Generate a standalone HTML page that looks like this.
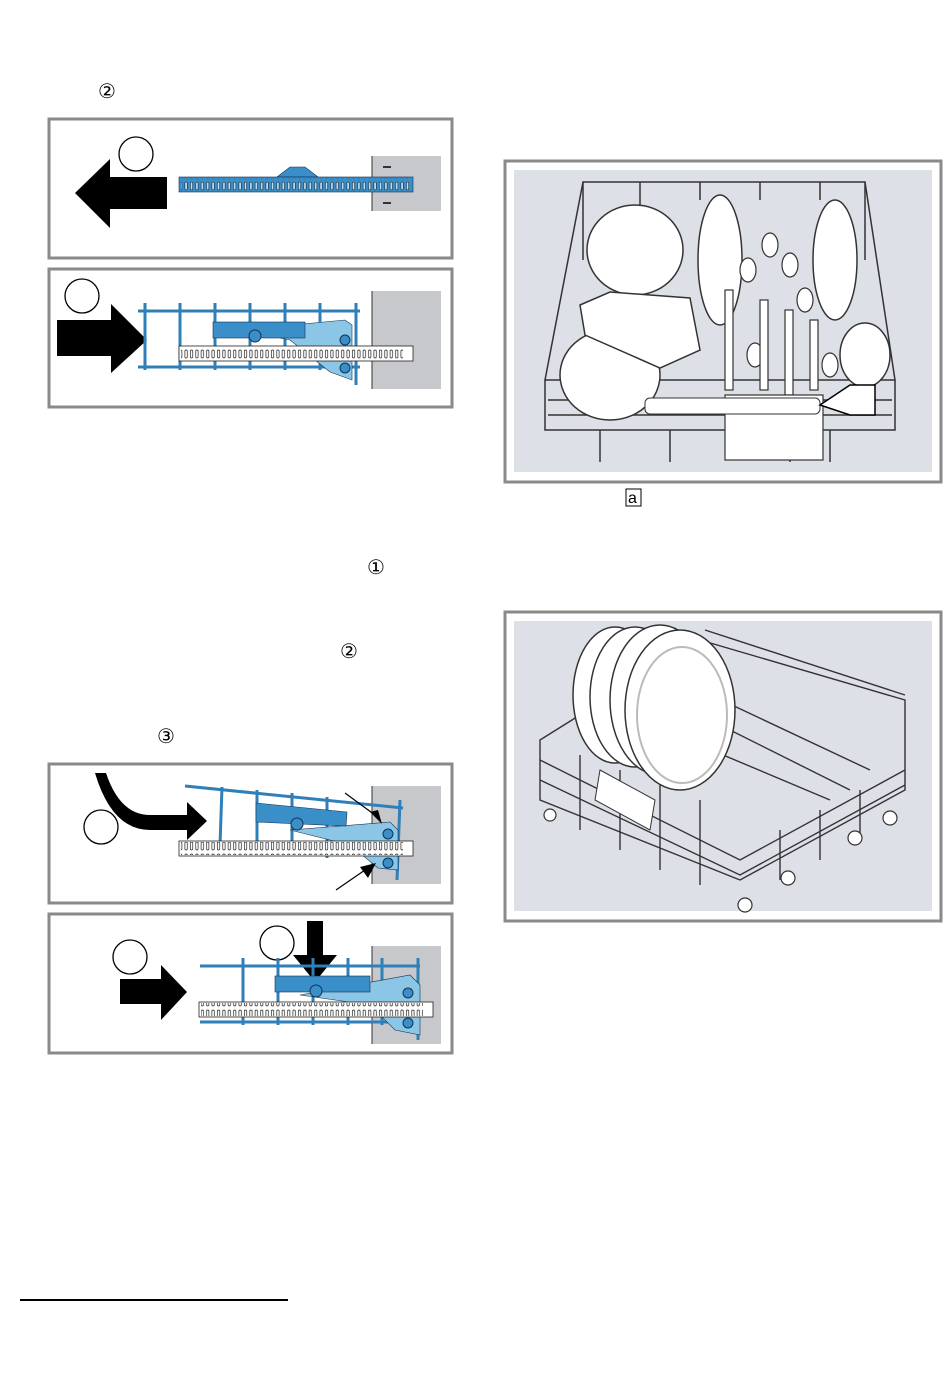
<!DOCTYPE html>
<html><head><meta charset="utf-8"><style>
body{margin:0;background:#fff;}
svg{display:block;font-family:"Liberation Sans",sans-serif;}
</style></head><body>
<svg width="950" height="1392" viewBox="0 0 950 1392">
<defs>
<pattern id="holes" x="0" y="0" width="5.4" height="12" patternUnits="userSpaceOnUse">
<rect x="1.3" y="2" width="2.4" height="8" rx="1.2" fill="none" stroke="#222" stroke-width="0.7"/>
</pattern>
<pattern id="holesB" x="0" y="0" width="5.4" height="12" patternUnits="userSpaceOnUse">
<rect x="1.3" y="2" width="2.4" height="8" rx="1.2" fill="#bfe0f2" stroke="#123" stroke-width="0.6"/>
</pattern>
</defs>
<g font-size="20" fill="#000" font-family="'DejaVu Sans',sans-serif">
<text x="98" y="98">②</text>
<text x="367" y="574">①</text>
<text x="340" y="658">②</text>
<text x="157" y="743">③</text>
</g>
<rect x="626" y="489" width="15" height="17" fill="none" stroke="#000" stroke-width="1"/>
<text x="628" y="503" font-size="16">a</text>
<line x1="20" y1="1300" x2="288" y2="1300" stroke="#000" stroke-width="2"/>

<!-- Panel 1 -->
<rect x="49" y="119" width="403" height="139" fill="#fff" stroke="#8a8a8a" stroke-width="3"/>
<rect x="372" y="156" width="69" height="55" fill="#c6c8cc"/>
<line x1="372" y1="156" x2="372" y2="211" stroke="#333"/>
<circle cx="136" cy="154" r="17" fill="#fff" stroke="#000" stroke-width="1.3"/>
<polygon points="75,193 110,159 110,177 167,177 167,209 110,209 110,228" fill="#000"/>
<polygon points="277,177 290,167 305,167 318,177" fill="#3a8fc8" stroke="#135" stroke-width="0.6"/>
<rect x="179" y="177" width="234" height="15" fill="#3a8fc8" stroke="#135" stroke-width="0.6"/>
<rect x="181" y="178" width="230" height="13" fill="url(#holesB)"/>
<path d="M383,167 h8 M383,203 h8" stroke="#333" stroke-width="2"/>

<!-- Panel 2 -->
<rect x="49" y="269" width="403" height="138" fill="#fff" stroke="#8a8a8a" stroke-width="3"/>
<rect x="372" y="291" width="69" height="98" fill="#c6c8cc"/>
<line x1="372" y1="291" x2="372" y2="389" stroke="#333"/>
<circle cx="82" cy="296" r="17" fill="#fff" stroke="#000" stroke-width="1.3"/>
<polygon points="57,320 111,320 111,304 147,340 111,373 111,356 57,356" fill="#000"/>
<g stroke="#2f7fb8" stroke-width="3">
<line x1="138" y1="311" x2="360" y2="311"/><line x1="138" y1="367" x2="360" y2="367"/>
<line x1="145" y1="303" x2="145" y2="370"/><line x1="180" y1="303" x2="180" y2="370"/>
<line x1="215" y1="303" x2="215" y2="370"/><line x1="250" y1="303" x2="250" y2="370"/>
<line x1="285" y1="303" x2="285" y2="370"/><line x1="320" y1="303" x2="320" y2="370"/>
<line x1="356" y1="303" x2="356" y2="385"/>
</g>
<polygon points="240,330 345,320 352,325 352,380 330,372 290,340" fill="#8cc6e6" stroke="#135" stroke-width="0.6"/>
<rect x="213" y="322" width="92" height="16" fill="#3a8fc8" stroke="#135" stroke-width="0.6"/>
<circle cx="255" cy="336" r="6" fill="#3a8fc8" stroke="#135"/>
<circle cx="345" cy="340" r="5" fill="#3a8fc8" stroke="#135"/>
<circle cx="345" cy="368" r="5" fill="#3a8fc8" stroke="#135"/>
<rect x="179" y="346" width="234" height="15" fill="#fff" stroke="#222" stroke-width="0.8"/>
<rect x="181" y="347" width="222" height="13" fill="url(#holes)"/>

<!-- Panel 3 -->
<rect x="49" y="764" width="403" height="139" fill="#fff" stroke="#8a8a8a" stroke-width="3"/>
<rect x="372" y="786" width="69" height="98" fill="#c6c8cc"/>
<line x1="372" y1="786" x2="372" y2="884" stroke="#333"/>
<circle cx="101" cy="827" r="17" fill="#fff" stroke="#000" stroke-width="1.3"/>
<path d="M106,773 Q120,815 150,815 L187,815 L187,802 L207,821 L187,840 L187,830 L150,830 Q112,830 95,773 Z" fill="#000"/>
<g stroke="#2f7fb8" stroke-width="3">
<line x1="185" y1="786" x2="403" y2="808"/>
<line x1="222" y1="787" x2="220" y2="845"/><line x1="257" y1="790" x2="257" y2="850"/>
<line x1="292" y1="793" x2="292" y2="855"/><line x1="327" y1="797" x2="327" y2="858"/>
<line x1="400" y1="800" x2="397" y2="880"/>
</g>
<polygon points="290,830 390,822 398,830 398,870 378,868 350,845" fill="#8cc6e6" stroke="#135" stroke-width="0.6"/>
<polygon points="256,803 347,812 346,826 256,822" fill="#3a8fc8" stroke="#135" stroke-width="0.6"/>
<circle cx="297" cy="824" r="6" fill="#3a8fc8" stroke="#135"/>
<circle cx="388" cy="834" r="5" fill="#3a8fc8" stroke="#135"/>
<circle cx="388" cy="863" r="5" fill="#3a8fc8" stroke="#135"/>
<rect x="179" y="841" width="234" height="15" fill="#fff" stroke="#222" stroke-width="0.8"/>
<rect x="181" y="842" width="222" height="13" fill="url(#holes)"/>
<line x1="345" y1="793" x2="375" y2="815" stroke="#000" stroke-width="1.2"/>
<polygon points="370,812 382,824 378,810" fill="#000"/>
<line x1="336" y1="890" x2="365" y2="870" stroke="#000" stroke-width="1.2"/>
<polygon points="360,867 376,863 368,878" fill="#000"/>

<!-- Panel 4 -->
<rect x="49" y="914" width="403" height="139" fill="#fff" stroke="#8a8a8a" stroke-width="3"/>
<rect x="372" y="946" width="69" height="98" fill="#c6c8cc"/>
<line x1="372" y1="946" x2="372" y2="1044" stroke="#333"/>
<circle cx="130" cy="957" r="17" fill="#fff" stroke="#000" stroke-width="1.3"/>
<circle cx="277" cy="943" r="17" fill="#fff" stroke="#000" stroke-width="1.3"/>
<polygon points="120,979 161,979 161,965 187,992 161,1020 161,1004 120,1004" fill="#000"/>
<polygon points="307,921 323,921 323,955 337,955 315,982 293,955 307,955" fill="#000"/>
<g stroke="#2f7fb8" stroke-width="3">
<line x1="200" y1="966" x2="420" y2="966"/><line x1="200" y1="1022" x2="420" y2="1022"/>
<line x1="243" y1="958" x2="243" y2="1025"/><line x1="278" y1="958" x2="278" y2="1025"/>
<line x1="313" y1="958" x2="313" y2="1025"/><line x1="348" y1="958" x2="348" y2="1025"/>
<line x1="382" y1="958" x2="382" y2="1025"/><line x1="418" y1="958" x2="418" y2="1040"/>
</g>
<polygon points="300,995 410,975 420,985 420,1035 395,1030 370,1005" fill="#8cc6e6" stroke="#135" stroke-width="0.6"/>
<rect x="275" y="976" width="95" height="16" fill="#3a8fc8" stroke="#135" stroke-width="0.6"/>
<circle cx="316" cy="991" r="6" fill="#3a8fc8" stroke="#135"/>
<circle cx="408" cy="993" r="5" fill="#3a8fc8" stroke="#135"/>
<circle cx="408" cy="1023" r="5" fill="#3a8fc8" stroke="#135"/>
<rect x="199" y="1002" width="234" height="15" fill="#fff" stroke="#222" stroke-width="0.8"/>
<rect x="201" y="1003" width="222" height="13" fill="url(#holes)"/>

<!-- Right panel 1 -->
<rect x="505" y="161" width="436" height="321" fill="#fff" stroke="#8a8a8a" stroke-width="3"/>
<rect x="514" y="170" width="418" height="302" fill="#dde0e6"/>
<g fill="none" stroke="#333" stroke-width="1.5">
<path d="M583,182 L865,182 L895,380 L545,380 Z"/>
<path d="M545,380 L545,430 L895,430 L895,380"/>
<path d="M548,400 H892 M548,415 H892"/>
<path d="M583,182 V260 M865,182 V260 M640,182 V210 M700,182 V200 M760,182 V200 M820,182 V200"/>
<path d="M600,430 V462 M670,430 V462 M790,430 V462 M830,430 V462"/>
</g>
<ellipse cx="635" cy="250" rx="48" ry="45" fill="#fff" stroke="#333" stroke-width="1.5"/>
<ellipse cx="610" cy="375" rx="50" ry="45" fill="#fff" stroke="#333" stroke-width="1.5"/>
<path d="M580,305 L610,292 L690,298 L700,350 L660,368 L585,335 Z" fill="#fff" stroke="#333" stroke-width="1.5"/>
<ellipse cx="720" cy="260" rx="22" ry="65" fill="#fff" stroke="#333" stroke-width="1.5"/>
<ellipse cx="835" cy="260" rx="22" ry="60" fill="#fff" stroke="#333" stroke-width="1.5"/>
<ellipse cx="865" cy="355" rx="25" ry="32" fill="#fff" stroke="#333" stroke-width="1.5"/>
<g fill="#fff" stroke="#333" stroke-width="1.2">
<ellipse cx="748" cy="270" rx="8" ry="12"/><ellipse cx="770" cy="245" rx="8" ry="12"/>
<ellipse cx="790" cy="265" rx="8" ry="12"/><ellipse cx="805" cy="300" rx="8" ry="12"/>
<ellipse cx="755" cy="355" rx="8" ry="12"/><ellipse cx="830" cy="365" rx="8" ry="12"/>
<rect x="725" y="290" width="8" height="100"/><rect x="760" y="300" width="8" height="90"/>
<rect x="785" y="310" width="8" height="85"/><rect x="810" y="320" width="8" height="70"/>
<rect x="725" y="395" width="98" height="65"/>
</g>
<rect x="645" y="398" width="175" height="16" rx="5" fill="#fff" stroke="#333"/>
<polygon points="820,405 850,385 875,385 875,415 850,415" fill="#fff" stroke="#000" stroke-width="1.5"/>

<!-- Right panel 2 -->
<rect x="505" y="612" width="436" height="309" fill="#fff" stroke="#8a8a8a" stroke-width="3"/>
<rect x="514" y="621" width="418" height="290" fill="#dde0e6"/>
<g fill="none" stroke="#333" stroke-width="1.4">
<path d="M540,740 L700,640 L905,700 L905,790 L740,880 L540,800 Z"/>
<path d="M540,760 L740,860 L905,770 M540,780 L740,875 L905,785"/>
<path d="M705,630 L905,695 M705,640 V720"/>
<path d="M580,755 V830 M620,770 V850 M660,785 V870 M700,800 V885 M780,830 V880 M820,810 V860 M860,790 V840"/>
<path d="M640,720 L830,800 M670,700 L850,790 M700,690 L870,770"/>
</g>
<g fill="#fff" stroke="#333" stroke-width="1.2">
<circle cx="745" cy="905" r="7"/><circle cx="788" cy="878" r="7"/><circle cx="855" cy="838" r="7"/><circle cx="890" cy="818" r="7"/>
<circle cx="550" cy="815" r="6"/>
</g>
<ellipse cx="615" cy="695" rx="42" ry="68" fill="#fff" stroke="#333" stroke-width="1.5"/>
<ellipse cx="635" cy="697" rx="45" ry="70" fill="#fff" stroke="#333" stroke-width="1.5"/>
<ellipse cx="660" cy="700" rx="50" ry="75" fill="#fff" stroke="#333" stroke-width="1.5"/>
<ellipse cx="680" cy="710" rx="55" ry="80" fill="#fff" stroke="#333" stroke-width="1.5"/>
<ellipse cx="682" cy="715" rx="45" ry="68" fill="none" stroke="#bbb" stroke-width="2"/>
<path d="M600,770 L655,800 L650,830 L595,800 Z" fill="#fff" stroke="#333"/>
</svg>
</body></html>
